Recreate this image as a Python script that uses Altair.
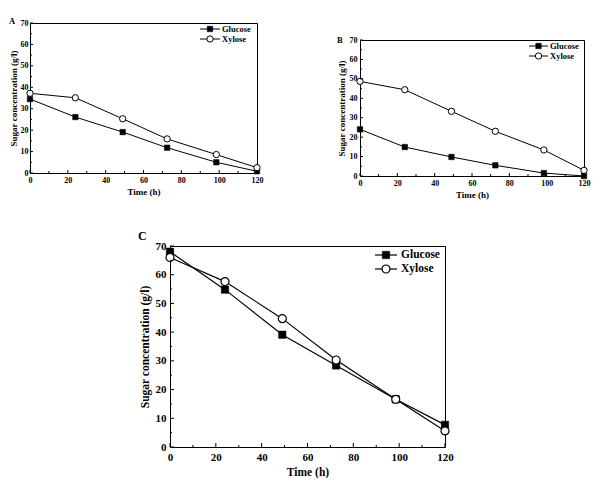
import altair as alt
import pandas as pd

FONT = "Liberation Serif"

times = [0, 24, 49, 72.5, 98.5, 120]
series_names = ["Glucose", "Xylose"]

a_glucose = [34.5, 26.1, 19.1, 11.8, 5.0, 0.8]
a_xylose = [37.2, 35.1, 25.3, 15.9, 8.6, 2.5]
b_glucose = [24.0, 14.9, 9.8, 5.5, 1.5, 0.0]
b_xylose = [48.7, 44.4, 33.3, 23.0, 13.4, 2.9]
c_glucose = [68.0, 54.8, 39.1, 28.4, 16.6, 7.7]
c_xylose = [66.0, 57.6, 44.7, 30.3, 16.6, 5.6]

x_major = [0, 20, 40, 60, 80, 100, 120]
x_minor = [10, 30, 50, 70, 90, 110]
y_major = [0, 10, 20, 30, 40, 50, 60, 70]
y_minor = [5, 15, 25, 35, 45, 55, 65]


def panel(gl, xy, letter, w, h, st):
    df = pd.DataFrame({
        "time": times * 2,
        "conc": gl + xy,
        "series": [series_names[0]] * len(times) + [series_names[1]] * len(times),
    })
    xs = alt.Scale(domain=[0, 120], nice=False, zero=False)
    ys = alt.Scale(domain=[0, 70], nice=False)
    xax = alt.Axis(values=x_major, ticks=False, domain=False, grid=False,
                   labelFont=FONT, labelFontWeight="bold", labelFontSize=st["lab"],
                   labelColor="black", labelPadding=st["xlp"], labelFlush=False,
                   labelOverlap=False, title="Time (h)", titleFont=FONT,
                   titleFontWeight="bold", titleFontSize=st["tit"], titleColor="black",
                   titlePadding=st["xtp"])
    yax = alt.Axis(values=y_major, ticks=False, domain=False, grid=False,
                   labelFont=FONT, labelFontWeight="bold", labelFontSize=st["lab"],
                   labelColor="black", labelPadding=st["ylp"], labelFlush=False,
                   labelOverlap=False, title="Sugar concentration (g/l)", titleFont=FONT,
                   titleFontWeight="bold", titleFontSize=st["tit"], titleColor="black",
                   titlePadding=st["ytp"])
    X = alt.X("time:Q", scale=xs, axis=xax)
    Y = alt.Y("conc:Q", scale=ys, axis=yax)

    base = alt.Chart(df)
    line = base.mark_line(color="black", strokeWidth=st["lw"]).encode(x=X, y=Y, detail="series:N")
    pg = base.transform_filter(alt.datum.series == series_names[0]).mark_point(
        shape="square", filled=True, fill="black", stroke="black", strokeWidth=0.5,
        size=st["sq"], opacity=1).encode(x=X, y=Y)
    px = base.transform_filter(alt.datum.series == series_names[1]).mark_point(
        shape="circle", filled=True, fill="white", stroke="black", strokeWidth=st["lw"],
        size=st["ci"], opacity=1).encode(x=X, y=Y)

    xt_maj = alt.Chart(pd.DataFrame({"time": x_major})).mark_rule(color="black", strokeWidth=1).encode(
        x=X, y=alt.value(h), y2=alt.value(h - st["tmaj"]))
    xt_min = alt.Chart(pd.DataFrame({"time": x_minor})).mark_rule(color="black", strokeWidth=1).encode(
        x=X, y=alt.value(h), y2=alt.value(h - st["tmin"]))
    yt_maj = alt.Chart(pd.DataFrame({"conc": y_major})).mark_rule(color="black", strokeWidth=1).encode(
        y=Y, x=alt.value(0), x2=alt.value(st["tmaj"]))
    yt_min = alt.Chart(pd.DataFrame({"conc": y_minor})).mark_rule(color="black", strokeWidth=1).encode(
        y=Y, x=alt.value(0), x2=alt.value(st["tmin"]))

    leg = alt.Chart(pd.DataFrame({"series": series_names}))
    legend_layers = []
    for i, name in enumerate(series_names):
        ly = st["ly0"] + i * st["ldy"]
        d = leg.transform_filter(alt.datum.series == name)
        legend_layers.append(d.mark_rule(color="black", strokeWidth=st["lw"]).encode(
            x=alt.value(st["lx0"]), x2=alt.value(st["lx1"]), y=alt.value(ly)))
        if i == 0:
            legend_layers.append(d.mark_point(shape="square", filled=True, fill="black",
                                              stroke="black", strokeWidth=0.5, size=st["sq"], opacity=1).encode(
                x=alt.value((st["lx0"] + st["lx1"]) / 2), y=alt.value(ly)))
        else:
            legend_layers.append(d.mark_point(shape="circle", filled=True, fill="white",
                                              stroke="black", strokeWidth=st["lw"], size=st["ci"], opacity=1).encode(
                x=alt.value((st["lx0"] + st["lx1"]) / 2), y=alt.value(ly)))
        legend_layers.append(d.mark_text(align="left", baseline="middle", font=FONT,
                                         fontWeight="bold", fontSize=st["lfs"], color="black").encode(
            x=alt.value(st["ltx"]), y=alt.value(ly), text="series:N"))

    letter_layer = alt.Chart(pd.DataFrame({"t": [letter]})).mark_text(
        align="left", baseline="middle", font=FONT, fontWeight="bold",
        fontSize=st["letfs"], color="black").encode(
        x=alt.value(st["letx"]), y=alt.value(st["lety"]), text="t:N")

    return alt.layer(line, pg, px, xt_maj, xt_min, yt_maj, yt_min, *legend_layers, letter_layer).properties(
        width=w, height=h, view=alt.ViewBackground(stroke="black", strokeWidth=1))


small = dict(lab=8, tit=9, xlp=3, xtp=3, ylp=2, ytp=2, lw=1, sq=30, ci=40, tmaj=3, tmin=2,
             ly0=6, ldy=10, lx0=170, lx1=190, ltx=192, lfs=8.5, letfs=8.5, letx=-21, lety=-2)
small_b = dict(small, ylp=3, ytp=3, lx0=169, lx1=188, ltx=190, letx=-23, lety=0)
big = dict(lab=11, tit=11.5, xlp=4, xtp=4, ylp=4, ytp=5, lw=1.2, sq=55, ci=64, tmaj=4, tmin=2,
           ly0=9, ldy=14, lx0=205, lx1=227, ltx=231, lfs=11.5, letfs=12, letx=-32, lety=-10)

pa = panel(a_glucose, a_xylose, "A", 227, 150, small)
pb = panel(b_glucose, b_xylose, "B", 224, 136, small_b)
pc = panel(c_glucose, c_xylose, "C", 275, 201, big)


def spacer(w, h):
    return alt.Chart(pd.DataFrame({"z": [0]})).mark_point(opacity=0).encode(
        x=alt.value(0), y=alt.value(0)).properties(
        width=w, height=h, view=alt.ViewBackground(strokeOpacity=0))


row1 = alt.hconcat(pa, alt.vconcat(spacer(1, 12), pb, spacing=0), spacing=72)
row2 = alt.hconcat(spacer(107, 1), pc, spacing=0)
chart = alt.vconcat(row1, row2, spacing=29).properties(
    padding={"left": 0, "top": 8, "right": 0, "bottom": 0}
).configure_view(stroke="black", strokeWidth=1)

chart.save("out.html", embed_options={"renderer": "svg", "actions": False})
